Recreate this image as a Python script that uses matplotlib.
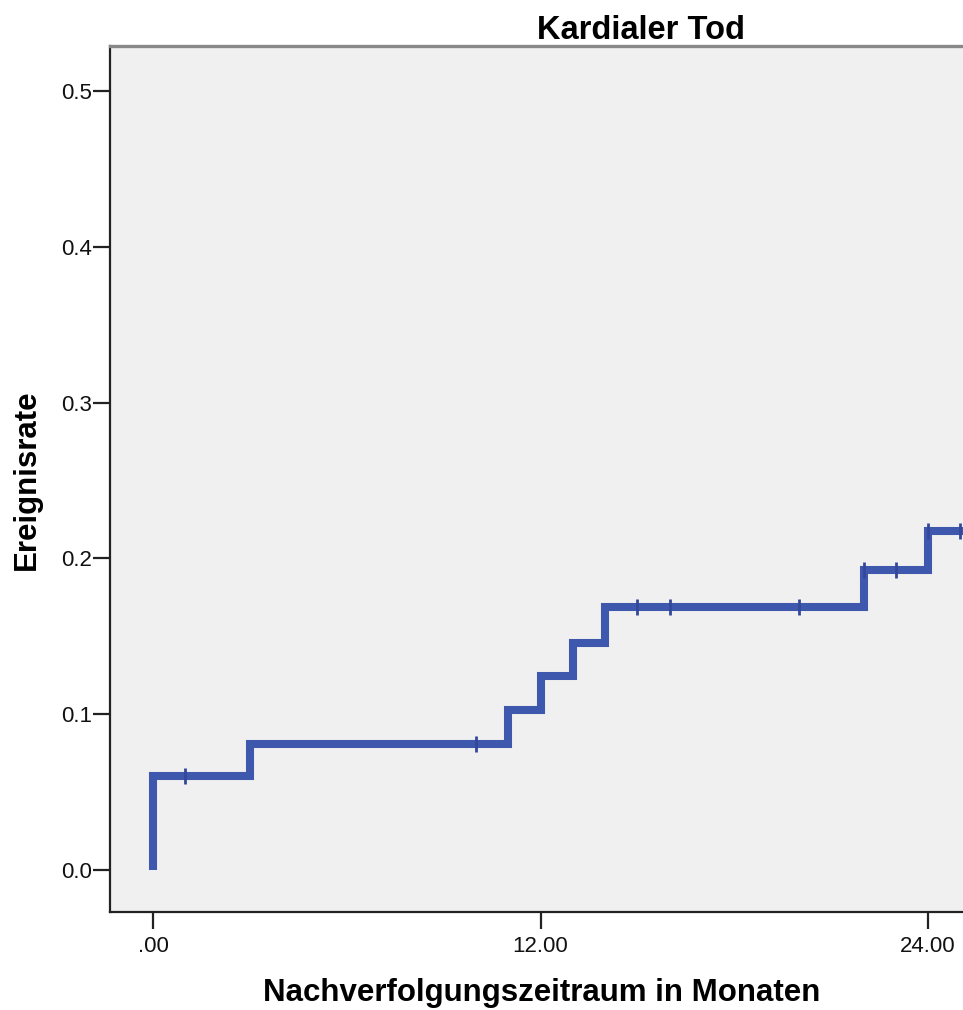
import matplotlib
matplotlib.use("Agg")
import matplotlib.pyplot as plt
import numpy as np

plt.rcParams['font.family'] = ['Liberation Sans', 'DejaVu Sans']

# Kaplan-Meier cumulative event rate (Kardialer Tod)
event_times = [0, 0, 3, 11, 12, 13, 14, 22, 24, 26]
event_rates = [0.0, 0.060, 0.081, 0.103, 0.1245, 0.146, 0.169, 0.1925, 0.2175, 0.2175]
censor_times = [1, 10, 15, 16, 20, 22, 23, 24, 25]
x_ticks = [0, 12, 24]
x_tick_labels = [".00", "12.00", "24.00"]
y_ticks = [0.0, 0.1, 0.2, 0.3, 0.4, 0.5]

blue = "#3E58AE"

fig = plt.figure(figsize=(9.63, 10.10), dpi=100)
W, H = 963.0, 1010.0
# axes runs past the right edge (the original image is cropped)
ax = fig.add_axes([110 / W, 1 - 912 / H, (1172 - 110) / W, (912 - 46) / H])
ax.set_facecolor("#F0F0F0")

ax.step(event_times, event_rates, where="post", color=blue, lw=5.8,
        solid_joinstyle="miter", solid_capstyle="butt", zorder=3)

t = np.array(event_times)
r = np.array(event_rates)
idx = np.searchsorted(t, censor_times, side="right") - 1
ax.plot(censor_times, r[idx], ls="none", marker="|", ms=11.5, mew=2.0,
        color="#33489a", zorder=4)

ax.set_xlim(-1.33, 31.55)
ax.set_ylim(-0.027, 0.529)
ax.set_xticks(x_ticks)
ax.set_xticklabels(x_tick_labels)
ax.set_yticks(y_ticks)
ax.set_yticklabels(["%.1f" % v for v in y_ticks])

ax.tick_params(axis="both", direction="out", width=1.6, color="#222222",
               labelsize=16, labelcolor="#111111")
ax.tick_params(axis="y", length=12, pad=1)
ax.tick_params(axis="x", length=12, pad=5)

for s in ["left", "bottom"]:
    ax.spines[s].set_linewidth(1.6)
    ax.spines[s].set_color("#222222")
ax.spines["top"].set_linewidth(2.4)
ax.spines["top"].set_color("#888888")
ax.spines["right"].set_visible(False)

ax.set_title("Kardialer Tod", fontsize=23.5, fontweight="bold", pad=5)
fig.text(542 / W, 1 - 978 / H, "Nachverfolgungszeitraum in Monaten",
         fontsize=22.5, fontweight="bold", ha="center", va="top")
fig.text(12 / W, 1 - 480 / H, "Ereignisrate", fontsize=22.5,
         fontweight="bold", rotation=90, ha="left", va="center")

fig.savefig("out.png", dpi=100)
